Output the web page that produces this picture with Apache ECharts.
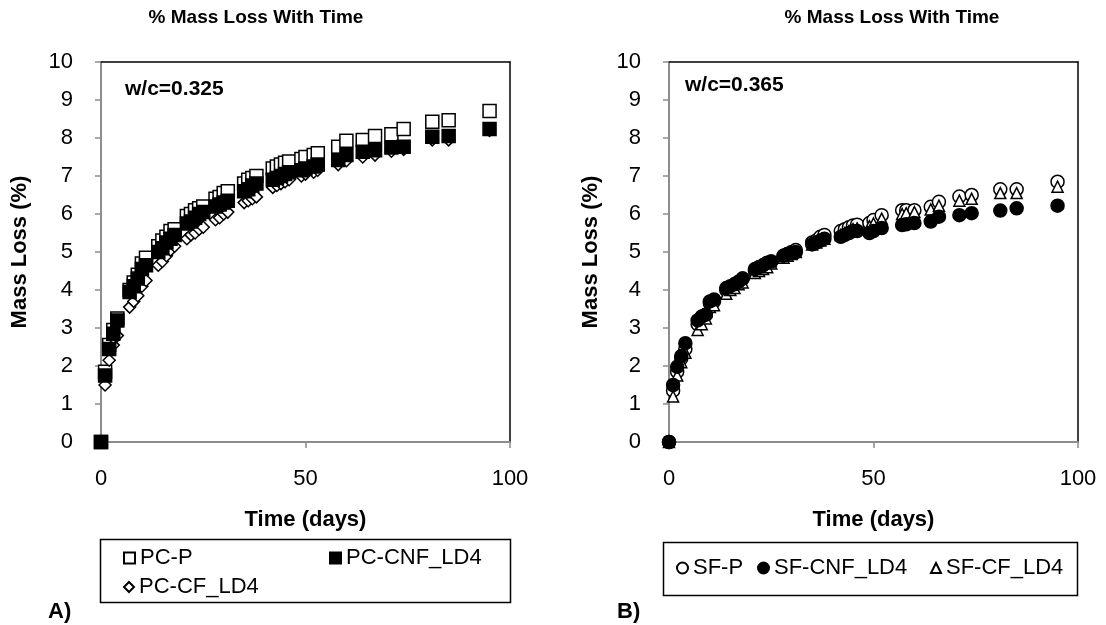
<!DOCTYPE html>
<html>
<head>
<meta charset="utf-8">
<script src="https://cdn.jsdelivr.net/npm/echarts@6/dist/echarts.min.js"></script>
<style>html,body{margin:0;padding:0;background:#fff;}#c{width:1106px;height:625px;}</style>
</head>
<body>
<div id="c"></div>
<script>
// ---- Data ----
const pcTime = [0, 1, 2, 3, 4, 7, 8, 9, 10, 11, 14, 15, 16, 17, 18, 21, 22, 23, 24, 25, 28, 29, 30, 31, 35, 36, 37, 38, 42, 43, 44, 45, 46, 49, 50, 52, 53, 58, 60, 64, 67, 71, 74, 81, 85, 95];
const pcP = [0, 1.85, 2.55, 2.95, 3.25, 4.0, 4.2, 4.4, 4.7, 4.85, 5.15, 5.3, 5.4, 5.55, 5.6, 5.95, 6.0, 6.1, 6.15, 6.2, 6.4, 6.45, 6.55, 6.6, 6.8, 6.9, 6.95, 7.0, 7.2, 7.25, 7.3, 7.35, 7.38, 7.45, 7.5, 7.55, 7.6, 7.77, 7.93, 7.95, 8.05, 8.1, 8.24, 8.43, 8.47, 8.71];
const pcCNF = [0, 1.75, 2.45, 2.85, 3.2, 3.95, 4.1, 4.3, 4.55, 4.65, 5.0, 5.1, 5.25, 5.35, 5.45, 5.75, 5.8, 5.9, 6.0, 6.05, 6.2, 6.25, 6.3, 6.35, 6.6, 6.65, 6.75, 6.8, 6.9, 6.95, 7.0, 7.05, 7.1, 7.15, 7.2, 7.25, 7.3, 7.42, 7.55, 7.64, 7.68, 7.75, 7.77, 8.03, 8.05, 8.24];
const pcCF = [0, 1.5, 2.15, 2.55, 2.8, 3.55, 3.7, 3.85, 4.1, 4.25, 4.65, 4.75, 4.9, 5.05, 5.15, 5.35, 5.45, 5.5, 5.6, 5.65, 5.85, 5.9, 6.0, 6.05, 6.3, 6.35, 6.4, 6.45, 6.7, 6.75, 6.8, 6.85, 6.9, 7.0, 7.05, 7.1, 7.15, 7.3, 7.4, 7.5, 7.55, 7.65, 7.7, 7.95, 7.95, 8.2];

const sfTime = [0, 1, 2, 3, 4, 7, 8, 9, 10, 11, 14, 15, 16, 17, 18, 21, 22, 23, 24, 25, 28, 29, 30, 31, 35, 36, 37, 38, 42, 43, 44, 45, 46, 49, 50, 52, 57, 58, 60, 64, 66, 71, 74, 81, 85, 95];
const sfP = [0, 1.35, 1.85, 2.2, 2.45, 3.1, 3.25, 3.35, 3.65, 3.7, 4.0, 4.05, 4.15, 4.2, 4.3, 4.5, 4.6, 4.65, 4.7, 4.75, 4.9, 4.95, 5.0, 5.05, 5.25, 5.3, 5.4, 5.45, 5.55, 5.6, 5.65, 5.7, 5.72, 5.76, 5.84, 5.97, 6.1, 6.1, 6.1, 6.19, 6.32, 6.46, 6.5, 6.65, 6.65, 6.85];
const sfCNF = [0, 1.5, 1.98, 2.26, 2.6, 3.2, 3.3, 3.35, 3.7, 3.75, 4.05, 4.1, 4.15, 4.22, 4.3, 4.55, 4.6, 4.65, 4.72, 4.75, 4.9, 4.95, 4.97, 5.0, 5.2, 5.25, 5.3, 5.35, 5.4, 5.45, 5.5, 5.55, 5.55, 5.5, 5.55, 5.63, 5.71, 5.73, 5.76, 5.8, 5.93, 5.97, 6.02, 6.09, 6.15, 6.22];
const sfCF = [0, 1.2, 1.75, 2.1, 2.35, 2.95, 3.1, 3.25, 3.55, 3.6, 3.9, 4.0, 4.05, 4.15, 4.2, 4.45, 4.5, 4.55, 4.6, 4.7, 4.85, 4.9, 4.95, 5.0, 5.2, 5.25, 5.3, 5.35, 5.45, 5.5, 5.55, 5.6, 5.62, 5.68, 5.75, 5.88, 6.0, 6.02, 6.05, 6.12, 6.22, 6.35, 6.4, 6.55, 6.55, 6.72];

const xTicks = [0, 50, 100];
const yTicks = [0, 1, 2, 3, 4, 5, 6, 7, 8, 9, 10];
const titles = ['% Mass Loss With Time', '% Mass Loss With Time'];
const notes = ['w/c=0.325', 'w/c=0.365'];
const panelTags = ['A)', 'B)'];

// ---- Chart ----
const FONT = '"Liberation Sans", Arial, sans-serif';
const pairs = (t, v) => t.map((x, i) => [x, v[i]]);
const chart = echarts.init(document.getElementById('c'), null, {renderer: 'canvas'});

const grids = [
  {left: 101, top: 62, width: 409, height: 380},
  {left: 669, top: 62, width: 409, height: 380}
];
const axGrey = '#8c8c8c';

function xMain(g) {
  return {
    type: 'value', gridIndex: g, min: xTicks[0], max: xTicks[xTicks.length - 1], interval: 50,
    name: 'Time (days)', nameLocation: 'middle', nameGap: 67,
    nameTextStyle: {fontFamily: FONT, fontSize: 22, fontWeight: 'bold', color: '#000'},
    axisLine: {show: true, onZero: false, lineStyle: {color: axGrey, width: 2}},
    axisTick: {show: true, inside: false, length: 6, lineStyle: {color: axGrey, width: 1.5}},
    axisLabel: {fontFamily: FONT, fontSize: 22, color: '#000', margin: 26},
    splitLine: {show: false}
  };
}
function yMain(g, gap) {
  return {
    type: 'value', gridIndex: g, min: yTicks[0], max: yTicks[yTicks.length - 1], interval: 1,
    name: 'Mass Loss (%)', nameLocation: 'middle', nameGap: gap,
    nameTextStyle: {fontFamily: FONT, fontSize: 22, fontWeight: 'bold', color: '#000'},
    axisLine: {show: true, onZero: false, lineStyle: {color: axGrey, width: 2}},
    axisTick: {show: true, inside: false, length: 6, lineStyle: {color: axGrey, width: 1.5}},
    axisLabel: {fontFamily: FONT, fontSize: 22, color: '#000', margin: 28},
    splitLine: {show: false}
  };
}
function frameX(g) {
  return {type: 'value', gridIndex: g, position: 'top', min: 0, max: 100,
    axisLine: {show: true, onZero: false, lineStyle: {color: '#000', width: 1.5}},
    axisTick: {show: false}, axisLabel: {show: false}, splitLine: {show: false}};
}
function frameY(g) {
  return {type: 'value', gridIndex: g, position: 'right', min: 0, max: 10,
    axisLine: {show: true, onZero: false, lineStyle: {color: '#000', width: 1.5}},
    axisTick: {show: false}, axisLabel: {show: false}, splitLine: {show: false}};
}

function scatter(name, xi, yi, data, symbol, size, fill, z) {
  return {
    name, type: 'scatter', xAxisIndex: xi, yAxisIndex: yi, data,
    symbol, symbolSize: size, z,
    itemStyle: {color: fill, borderColor: '#000', borderWidth: 1.5, opacity: 1},
    emphasis: {disabled: true}, animation: false
  };
}

function legendItem(name, icon, left, top, w, h) {
  return {
    data: [{name, icon}], left, top, orient: 'horizontal', padding: 0,
    itemWidth: w, itemHeight: h, itemGap: 5, selectedMode: false,
    textStyle: {fontFamily: FONT, fontSize: 22, color: '#000', padding: [0, 0, 0, 0]}
  };
}

const option = {
  backgroundColor: '#fff',
  animation: false,
  grid: grids,
  xAxis: [xMain(0), xMain(1), frameX(0), frameX(1)],
  yAxis: [yMain(0, 70), yMain(1, 67), frameY(0), frameY(1)],
  legend: [
    legendItem('PC-P', 'rect', 123, 547, 11, 11),
    legendItem('PC-CNF_LD4', 'rect', 329, 547, 11, 11),
    legendItem('PC-CF_LD4', 'diamond', 123, 576, 10, 10),
    legendItem('SF-P', 'circle', 676, 557, 11, 11),
    legendItem('SF-CNF_LD4', 'circle', 757, 557, 11, 11),
    legendItem('SF-CF_LD4', 'triangle', 930, 557, 10, 10)
  ],
  series: [
    scatter('PC-P', 0, 0, pairs(pcTime, pcP), 'rect', 13, '#fff', 2),
    scatter('PC-CF_LD4', 0, 0, pairs(pcTime, pcCF), 'diamond', 12, '#fff', 3),
    scatter('PC-CNF_LD4', 0, 0, pairs(pcTime, pcCNF), 'rect', 13, '#000', 4),
    scatter('SF-P', 1, 1, pairs(sfTime, sfP), 'circle', 13, '#fff', 2),
    scatter('SF-CF_LD4', 1, 1, pairs(sfTime, sfCF), 'triangle', 11, '#fff', 3),
    scatter('SF-CNF_LD4', 1, 1, pairs(sfTime, sfCNF), 'circle', 13, '#000', 4)
  ],
  graphic: [
    {type: 'text', x: 256, y: 18, style: {text: titles[0], font: 'bold 19px ' + FONT, fill: '#000', textAlign: 'center', textVerticalAlign: 'middle'}},
    {type: 'text', x: 892, y: 18, style: {text: titles[1], font: 'bold 19px ' + FONT, fill: '#000', textAlign: 'center', textVerticalAlign: 'middle'}},
    {type: 'text', x: 125, y: 89, style: {text: notes[0], font: 'bold 21px ' + FONT, fill: '#000', textAlign: 'left', textVerticalAlign: 'middle'}},
    {type: 'text', x: 685, y: 85, style: {text: notes[1], font: 'bold 21px ' + FONT, fill: '#000', textAlign: 'left', textVerticalAlign: 'middle'}},
    {type: 'text', x: 48, y: 612, style: {text: panelTags[0], font: 'bold 22px ' + FONT, fill: '#000', textAlign: 'left', textVerticalAlign: 'middle'}},
    {type: 'text', x: 617, y: 612, style: {text: panelTags[1], font: 'bold 22px ' + FONT, fill: '#000', textAlign: 'left', textVerticalAlign: 'middle'}},
    {type: 'rect', shape: {x: 100.5, y: 539.5, width: 410, height: 63}, style: {fill: 'none', stroke: '#000', lineWidth: 1.5}, z: -1},
    {type: 'rect', shape: {x: 663.5, y: 542.5, width: 414, height: 53}, style: {fill: 'none', stroke: '#000', lineWidth: 1.5}, z: -1}
  ]
};
chart.setOption(option);
</script>
</body>
</html>
